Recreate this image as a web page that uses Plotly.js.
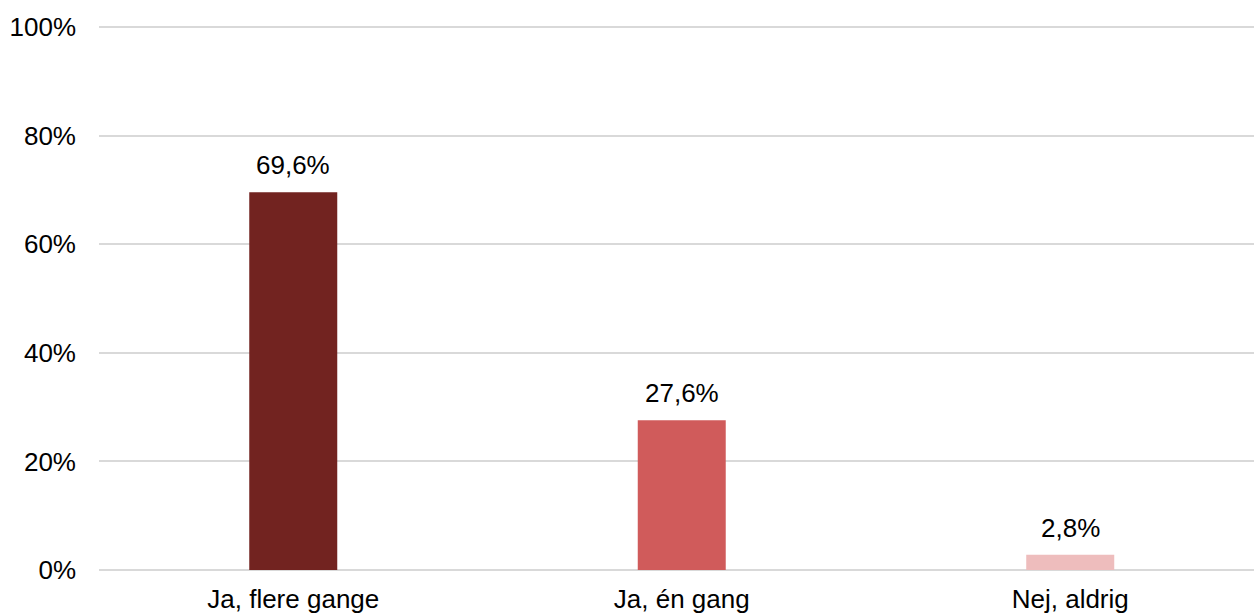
<!DOCTYPE html>
<html>
<head>
<meta charset="utf-8">
<script src="https://cdn.plot.ly/plotly-3.0.1.min.js"></script>
<style>html,body{margin:0;padding:0;background:#fff;}#chart{width:1254px;height:615px;}</style>
</head>
<body>
<div id="chart"></div>
<script>
const categories = ["Ja, flere gange", "Ja, én gang", "Nej, aldrig"];
const values = [69.6, 27.6, 2.8];
const labels = ["69,6%", "27,6%", "2,8%"];
const colors = ["#722320", "#D05B5B", "#EEBDBD"];
const yTickVals = [0, 20, 40, 60, 80, 100];
const yTickText = ["0%", "20%", "40%", "60%", "80%", "100%"];

const FONT = "Liberation Sans, Arial, sans-serif";

const trace = {
  type: "bar",
  x: categories,
  y: values,
  marker: {color: colors},
  hoverinfo: "none"
};

const annotations = categories.map((c, i) => ({
  x: c, y: values[i], xref: "x", yref: "y",
  text: labels[i], showarrow: false,
  yanchor: "bottom", yshift: 10,
  font: {family: FONT, size: 26, color: "#000"}
}));

const layout = {
  width: 1254, height: 615,
  margin: {l: 99, r: 0, t: 26, b: 45},
  paper_bgcolor: "#fff", plot_bgcolor: "#fff",
  showlegend: false,
  bargap: 0.7735,
  font: {family: FONT, size: 26, color: "#000"},
  xaxis: {
    type: "category",
    range: [-0.5, 2.473],
    showgrid: false, zeroline: false, showline: false,
    ticks: "", ticklabelstandoff: 11,
    tickfont: {family: FONT, size: 26, color: "#000"}
  },
  yaxis: {
    range: [0, 100.2],
    tickvals: yTickVals, ticktext: yTickText,
    showgrid: true, gridcolor: "#D9D9D9", gridwidth: 2,
    zeroline: true, zerolinecolor: "#D9D9D9", zerolinewidth: 2,
    showline: false, ticks: "",
    ticklabelstandoff: 22,
    tickfont: {family: FONT, size: 26, color: "#000"}
  },
  annotations: annotations
};

Plotly.newPlot("chart", [trace], layout, {displayModeBar: false, staticPlot: true});
</script>
</body>
</html>
